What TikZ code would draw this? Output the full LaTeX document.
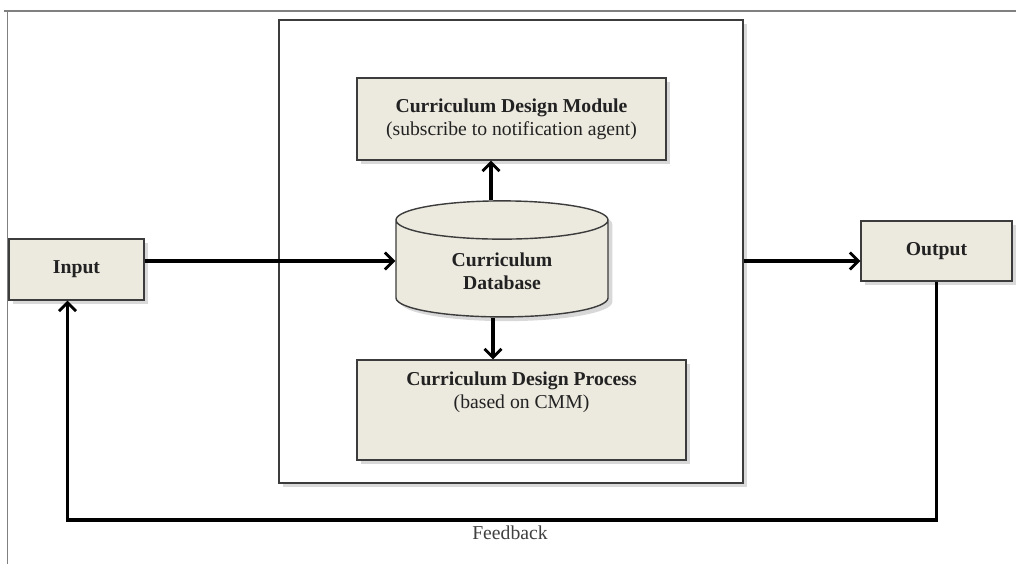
\documentclass[tikz,border=0pt]{standalone}
\usepackage{fontspec}
\setmainfont{Liberation Serif}
\usepackage{tikz}
\usetikzlibrary{arrows.meta,positioning,shapes.geometric,shadows}
\definecolor{boxfill}{RGB}{236,233,222}
\definecolor{boxline}{RGB}{60,60,60}
\definecolor{txt}{RGB}{34,34,34}

\begin{document}
\begin{tikzpicture}[x=0.025cm,y=-0.025cm,
  shad/.style={drop shadow={opacity=0.3,shadow xshift=3pt,shadow yshift=-3pt}},
  box/.style={draw=boxline,line width=1pt,fill=boxfill,align=center,text=txt,
    font=\fontsize{14}{16.5}\selectfont,inner sep=2pt,shad},
  db/.style={box,cylinder,shape border rotate=90,aspect=0.36},
  frame/.style={draw=boxline,line width=0.9pt,fill=white,shad},
  arr/.style={-{Straight Barb[length=6pt,width=12pt,line width=2pt]},line width=2.2pt,black}]
  \useasboundingbox (0,0) rectangle (1016,564);
  \draw[gray,line width=0.8pt] (4,11) -- (1016,11);
  \draw[gray,line width=0.8pt] (7.5,11) -- (7.5,564);
  \node[frame,minimum width=11.6cm,minimum height=11.575cm] (Main) at (511,251.5) {};
  \node[box,minimum width=7.725cm,minimum height=2.05cm] (Mod) at (511.5,119)
    {\textbf{Curriculum Design Module}\\(subscribe to notification agent)};
  \node[db,minimum width=5.3cm,minimum height=2.9cm] (DB) at (502,271)
    {\textbf{Curriculum}\\\textbf{Database}};
  \node[box,minimum width=8.225cm,minimum height=2.5cm] (Proc) at (521.5,410)
    {\textbf{Curriculum Design Process}\\(based on CMM)\\[0.8em]};
  \node[box,minimum width=3.375cm,minimum height=1.525cm] (Input) at (76.5,269.5) {\textbf{Input}};
  \node[box,minimum width=3.775cm,minimum height=1.5cm] (Output) at (936.5,251) {\textbf{Output}};
  \coordinate (fb) at (510,520);
  \draw[arr] (Input.east |- 0,261) -- (DB.west |- 0,261);
  \draw[arr] (Main.east |- 0,261) -- (Output.west |- 0,261);
  \draw[arr] ([xshift=-0.275cm]DB.north) -- ([xshift=-0.275cm]DB.north |- Mod.south);
  \draw[arr] ([xshift=-0.225cm]DB.south) -- ([xshift=-0.225cm]DB.south |- Proc.north);
  \draw[arr] (Output.south) |- (fb) -| ([xshift=-0.225cm]Input.south);
  \node[text=black!75,font=\fontsize{14}{16}\selectfont] (FbLabel) at (510,533) {Feedback};
\end{tikzpicture}
\end{document}
